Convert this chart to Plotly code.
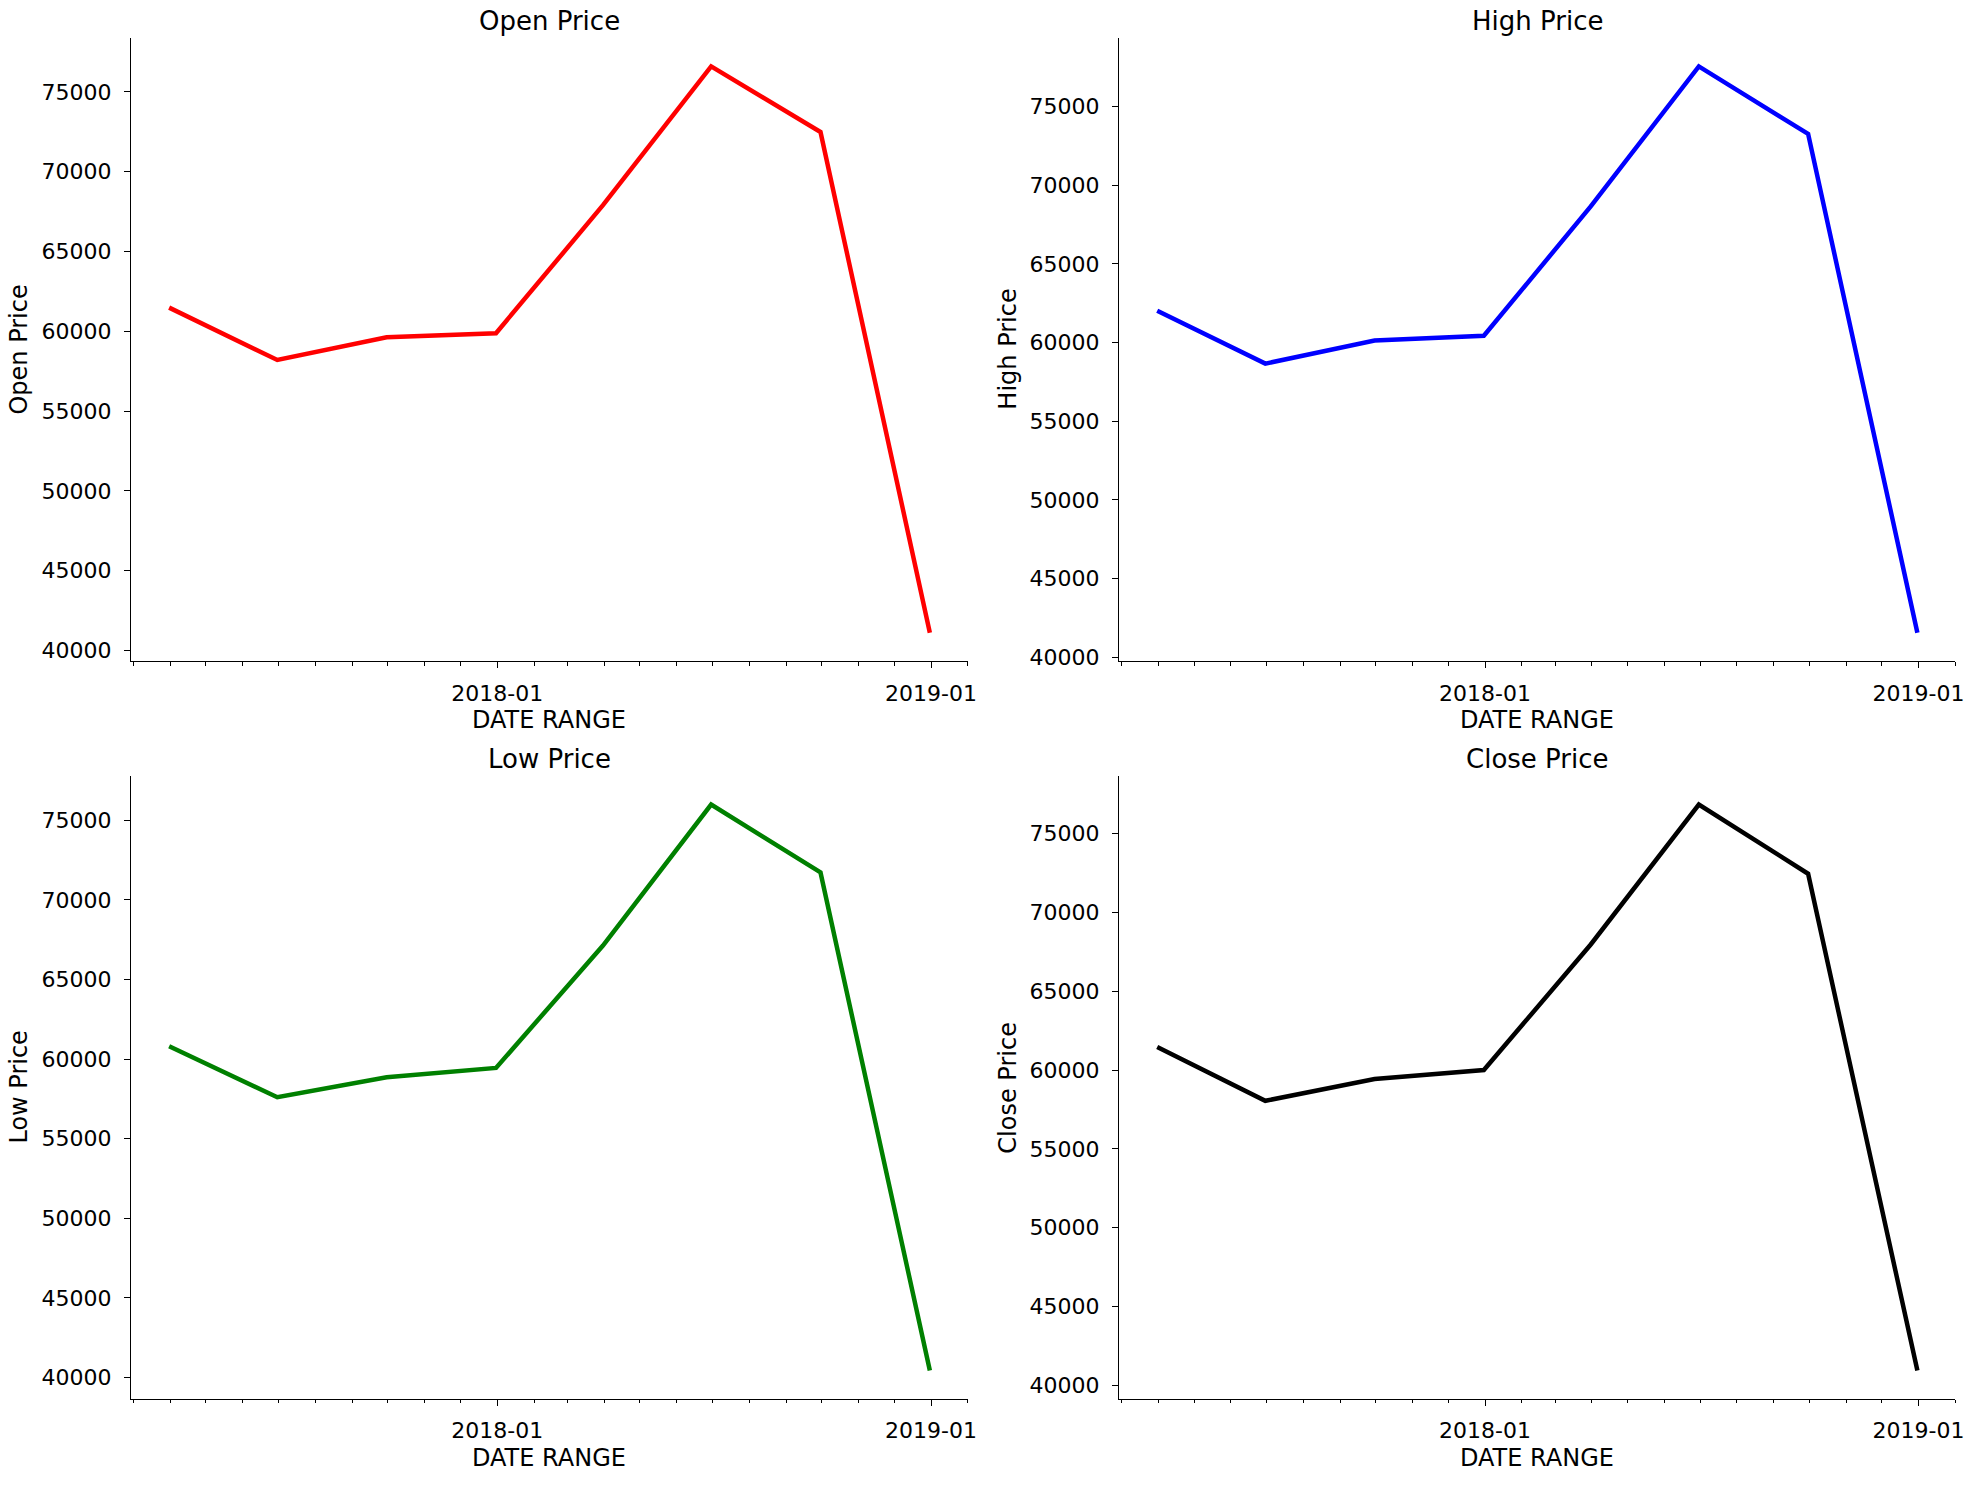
import plotly.graph_objects as go
import pandas as pd

# ---- data (quarter-end dates) ----
dates = ["2017-03-31", "2017-06-30", "2017-09-30", "2017-12-31",
         "2018-03-31", "2018-06-30", "2018-09-30", "2018-12-31"]
open_price = [61480, 58200, 59620, 59880, 67900, 76600, 72490, 41110]
high_price = [62020, 58660, 60130, 60430, 68650, 77550, 73260, 41560]
low_price = [60800, 57600, 58850, 59440, 67130, 75980, 71720, 40440]
close_price = [61460, 58050, 59430, 60000, 67970, 76850, 72460, 40930]

titles = ["Open Price", "High Price", "Low Price", "Close Price"]
series = [open_price, high_price, low_price, close_price]
colors = ["#ff0000", "#0000ff", "#008000", "#000000"]
x_label = "DATE RANGE"

W, H = 1984, 1490
FONT = "DejaVu Sans"

# axes boxes in pixels: (left, right, top, bottom)
cols = [(131.7, 972.3), (1124.3, 1964.3)]
rows = [(38.3, 665.0), (781.0, 1407.3)]

fig = go.Figure()

d = pd.to_datetime(dates)
span = d.max() - d.min()
x_range = [(d.min() - span * 0.05).strftime("%Y-%m-%d %H:%M"),
           (d.max() + span * 0.05).strftime("%Y-%m-%d %H:%M")]

annotations = []
for i, (title, vals, color) in enumerate(zip(titles, series, colors)):
    r, c = divmod(i, 2)
    left, right = cols[c]
    top, bottom = rows[r]
    n = "" if i == 0 else str(i + 1)
    fig.add_trace(go.Scatter(x=dates, y=vals, mode="lines",
                             line=dict(color=color, width=4.5),
                             xaxis="x" + n, yaxis="y" + n,
                             showlegend=False, hoverinfo="x+y"))
    ymin, ymax = min(vals), max(vals)
    ys = ymax - ymin
    common = dict(showline=True, linecolor="black", linewidth=1.4,
                  ticks="outside", ticklen=6, tickwidth=1.4, tickcolor="black",
                  showgrid=False, zeroline=False,
                  tickfont=dict(family=FONT, size=22, color="black"))
    fig.update_layout(**{
        "xaxis" + n: dict(domain=[left / W, right / W], anchor="y" + n,
                          type="date", range=x_range,
                          tick0="2018-01-01", dtick="M12", tickformat="%Y-%m",
                          ticklabelstandoff=6,
                          minor=dict(ticks="outside", ticklen=3.5, tickwidth=1.2,
                                     tickcolor="black", dtick="M1",
                                     tick0="2017-01-01", showgrid=False),
                          **common),
        "yaxis" + n: dict(domain=[1 - bottom / H, 1 - top / H], anchor="x" + n,
                          range=[ymin - 0.05 * ys, ymax + 0.05 * ys],
                          tick0=0, dtick=5000, tickformat="d",
                          ticklabelstandoff=8,
                          **common),
    })
    cx = (left + right) / 2 / W
    cy = 1 - (top + bottom) / 2 / H
    title_y = 21 if r == 0 else 763.6
    xlab_y = 724 if r == 0 else 1467
    ylab_x = left - 112.6
    annotations += [
        dict(text=title, x=cx, y=1 - title_y / H, xref="paper", yref="paper",
             xanchor="center", yanchor="middle", showarrow=False,
             font=dict(family=FONT, size=26, color="black")),
        dict(text=x_label, x=cx, y=1 - xlab_y / H, xref="paper", yref="paper",
             xanchor="center", yanchor="middle", showarrow=False,
             font=dict(family=FONT, size=24, color="black")),
        dict(text=title, x=ylab_x / W, y=cy, xref="paper", yref="paper",
             xanchor="center", yanchor="middle", showarrow=False, textangle=-90,
             font=dict(family=FONT, size=24, color="black")),
    ]

fig.update_layout(width=W, height=H, margin=dict(l=0, r=0, t=0, b=0),
                  paper_bgcolor="white", plot_bgcolor="white",
                  annotations=annotations, font=dict(family=FONT, color="black"))

fig.write_html("out.html",
               config={"displayModeBar": False},
               post_script=("document.body.style.margin='0';"
                            "document.body.style.padding='0';"
                            "document.body.style.overflow='hidden';"
                            "document.documentElement.style.overflow='hidden';"))
